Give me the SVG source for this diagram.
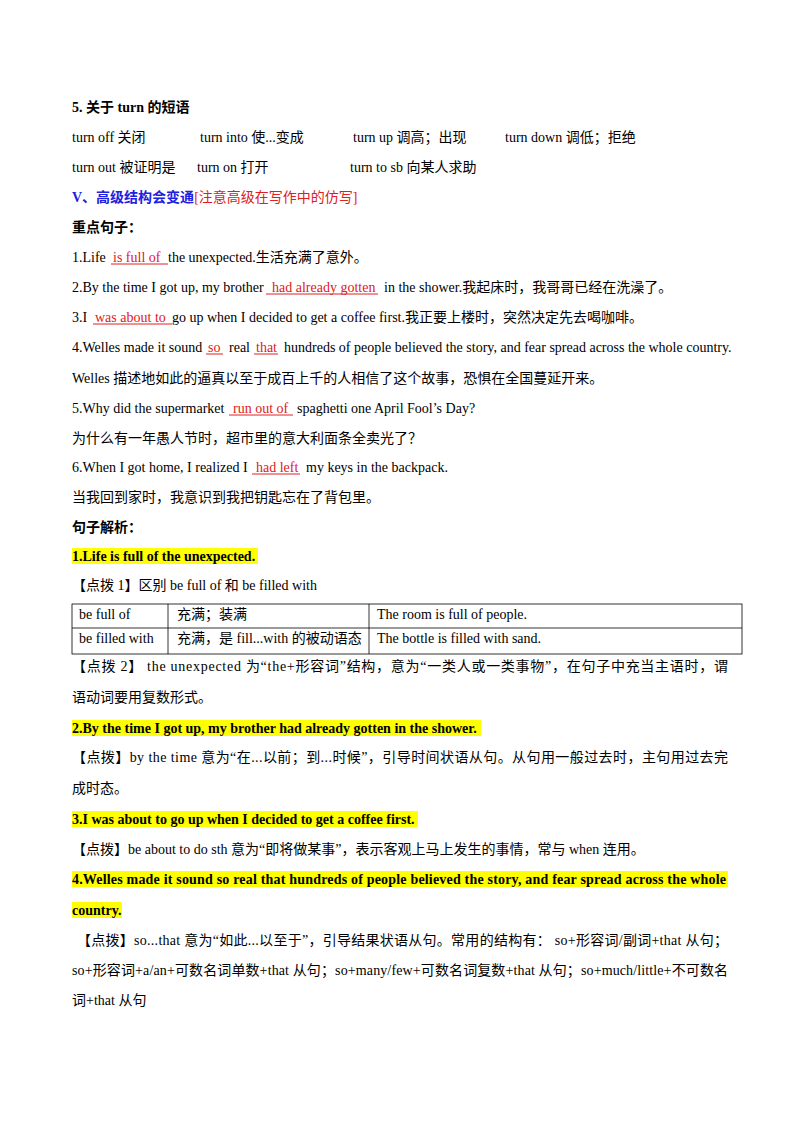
<svg xmlns="http://www.w3.org/2000/svg" width="800" height="1132" viewBox="0 0 800 1132">
<style>
text{font-family:"Liberation Serif","Noto Sans CJK SC",serif;font-size:14px;fill:#000}
.b{font-weight:bold}
.r{fill:#e02020}
.bl{fill:#2020e0;font-weight:bold}
.u{stroke:#e02020;stroke-width:1}
.hl{fill:#ffff00}
.tb{fill:none;stroke:#000;stroke-width:0.8}
</style>
<rect width="800" height="1132" fill="#fff"/>
<g id="phrases">
<text class="b" x="72" y="112">5.  关于 turn  的短语</text>
<text x="72" y="142">turn off 关闭</text>
<text x="200" y="142">turn into 使...变成</text>
<text x="353" y="142">turn up 调高；出现</text>
<text x="505" y="142">turn down 调低；拒绝</text>
<text x="72" y="172">turn out 被证明是</text>
<text x="197" y="172">turn on 打开</text>
<text x="350" y="172">turn to sb 向某人求助</text>
<text x="72" y="202"><tspan class="bl">V、高级结构会变通</tspan><tspan class="r">[注意高级在写作中的仿写]</tspan></text>
<text class="b" x="72" y="232">重点句子：</text>
</g>
<g id="sentences">
<text x="72" y="262">1.Life</text><text class="r" x="113" y="262">is full of</text><text x="168" y="262">the unexpected.生活充满了意外。</text>
<line class="u" x1="111" y1="264" x2="168" y2="264"/>
<text x="72" y="292">2.By the time I got up, my brother</text><text class="r" x="272" y="292">had already gotten</text><text x="384" y="292">in the shower.我起床时，我哥哥已经在洗澡了。</text>
<line class="u" x1="266" y1="294" x2="378" y2="294"/>
<text x="72" y="322">3.I</text><text class="r" x="95" y="322">was about to</text><text x="172" y="322">go up when I decided to get a coffee first.我正要上楼时，突然决定先去喝咖啡。</text>
<line class="u" x1="93" y1="324" x2="172" y2="324"/>
<text x="72" y="352">4.Welles made it sound</text><text class="r" x="208" y="352">so</text><text x="229" y="352">real</text><text class="r" x="256" y="352">that</text><text x="284" y="352">hundreds of people believed the story, and fear spread across the whole country.</text>
<line class="u" x1="206" y1="354" x2="223" y2="354"/><line class="u" x1="254" y1="354" x2="278" y2="354"/>
<text x="72" y="383">Welles 描述地如此的逼真以至于成百上千的人相信了这个故事，恐惧在全国蔓延开来。</text>
<text x="72" y="413">5.Why did the supermarket</text><text class="r" x="233" y="413">run out of</text><text x="297" y="413">spaghetti one April Fool’s Day?</text>
<line class="u" x1="229" y1="415" x2="293" y2="415"/>
<text x="72" y="443">为什么有一年愚人节时，超市里的意大利面条全卖光了？</text>
<text x="72" y="472">6.When I got home, I realized I</text><text class="r" x="256" y="472">had left</text><text x="306" y="472">my keys in the backpack.</text>
<line class="u" x1="252" y1="474" x2="300" y2="474"/>
<text x="72" y="502">当我回到家时，我意识到我把钥匙忘在了背包里。</text>
<text class="b" x="72" y="532">句子解析：</text>
</g>
<g id="analysis">
<rect class="hl" x="72" y="548" width="186" height="16"/>
<text class="b" x="72" y="561">1.Life is full of the unexpected.</text>
<text x="72" y="590">【点拨 1】区别 be full of 和 be filled with</text>
<g id="table">
<rect class="tb" x="72" y="604" width="670" height="50"/>
<line class="tb" x1="72" y1="628" x2="742" y2="628"/>
<line class="tb" x1="168" y1="604" x2="168" y2="654"/>
<line class="tb" x1="369" y1="604" x2="369" y2="654"/>
<text x="79" y="619">be full of</text><text x="177" y="619">充满；装满</text><text x="377" y="619">The room is full of people.</text>
<text x="79" y="643">be filled with</text><text x="177" y="643">充满，是 fill...with 的被动语态</text><text x="377" y="643">The bottle is filled with sand.</text>
</g>
<text x="72" y="671" textLength="656">【点拨 2】  the unexpected 为“the+形容词”结构，意为“一类人或一类事物”，在句子中充当主语时，谓</text>
<text x="72" y="702">语动词要用复数形式。</text>
<rect class="hl" x="72" y="720" width="409" height="16"/>
<text class="b" x="72" y="733">2.By the time I got up, my brother had already gotten in the shower.</text>
<text x="72" y="762" textLength="656">【点拨】by the time 意为“在...以前；到...时候”，引导时间状语从句。从句用一般过去时，主句用过去完</text>
<text x="72" y="793">成时态。</text>
<rect class="hl" x="72" y="811" width="346" height="16"/>
<text class="b" x="72" y="824">3.I was about to go up when I decided to get a coffee first.</text>
<text x="72" y="854">【点拨】be about to do sth 意为“即将做某事”，表示客观上马上发生的事情，常与 when 连用。</text>
<rect class="hl" x="72" y="871" width="656" height="16"/>
<text class="b" x="72" y="884" textLength="654">4.Welles made it sound so real that hundreds of people believed the story, and fear spread across the whole</text>
<rect class="hl" x="72" y="902" width="50" height="16"/>
<text class="b" x="72" y="915">country.</text>
<text x="77" y="945" textLength="651">【点拨】so...that 意为“如此...以至于”，引导结果状语从句。常用的结构有： so+形容词/副词+that 从句；</text>
<text x="72" y="975" textLength="656">so+形容词+a/an+可数名词单数+that 从句；so+many/few+可数名词复数+that 从句；so+much/little+不可数名</text>
<text x="72" y="1005">词+that 从句</text>
</g>
</svg>
